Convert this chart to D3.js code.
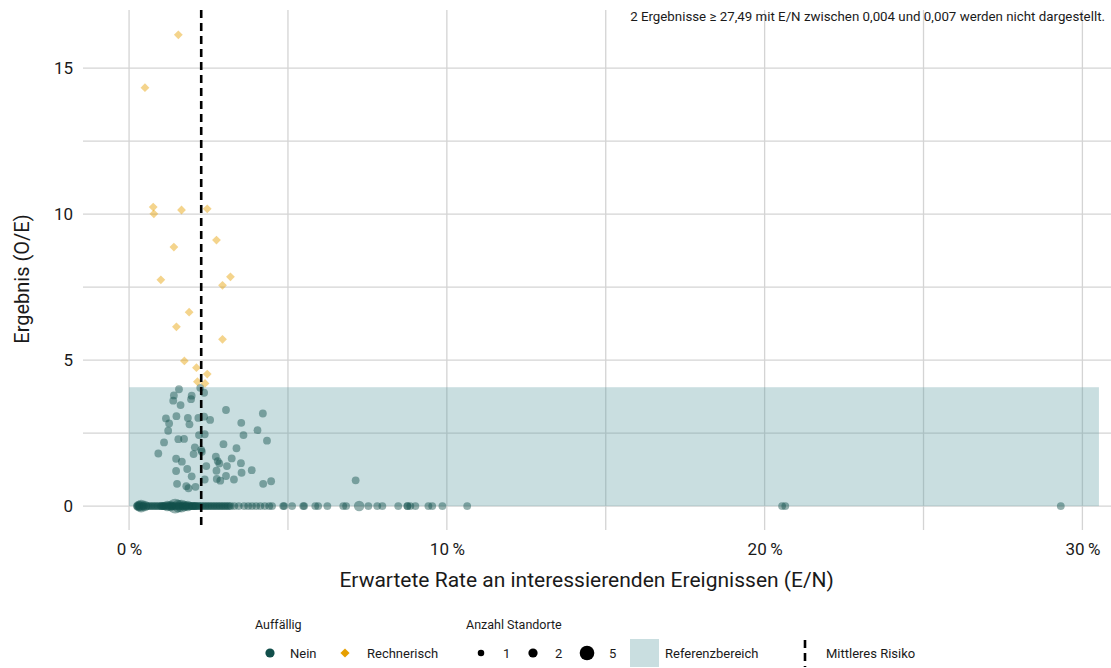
<!DOCTYPE html>
<html>
<head>
<meta charset="utf-8">
<script src="https://cdn.jsdelivr.net/npm/d3@7"></script>
<style>
  body { margin: 0; background: #fff; }
  text { font-family: Roboto, "Noto Sans", sans-serif; fill: #1a1a1a; }
</style>
</head>
<body>
<div id="chart"></div>
<script>
// E/N in percent, O/E
var xTicks = [0, 10, 20, 30];
var xGrid = [0, 5, 10, 15, 20, 25, 30];
var yTicks = [0, 5, 10, 15];
var yGrid = [0, 2.5, 5, 7.5, 10, 12.5, 15];
var meanRisk = 2.27;
var refX = [0, 30.52];
var refY = [0, 4.07];
var note = "2 Ergebnisse \u2265 27,49 mit E/N zwischen 0,004 und 0,007 werden nicht dargestellt.";

// Rechnerisch auffällig (x %, O/E)
var rechnerisch = [
  [1.55, 16.14], [0.50, 14.33], [0.76, 10.24], [0.78, 10.01], [1.65, 10.14],
  [2.46, 10.18], [2.75, 9.11], [1.41, 8.87], [1.00, 7.75], [3.19, 7.85],
  [2.94, 7.56], [1.89, 6.64], [1.49, 6.14], [2.94, 5.71], [1.74, 4.97],
  [2.12, 4.74], [2.46, 4.52], [2.15, 4.26], [2.39, 4.20]
];

// Nicht auffällig, O/E > 0 (x %, O/E, Standorte)
var neinPos = [
  [1.57, 4.00, 1], [1.97, 3.78, 1], [1.41, 3.79, 1], [1.39, 3.61, 1], [1.95, 3.66, 1],
  [1.62, 3.46, 1], [2.24, 4.05, 1], [2.36, 3.88, 1], [3.05, 3.29, 1], [4.21, 3.17, 1],
  [1.16, 3.00, 1], [1.49, 3.08, 1], [1.85, 3.02, 1], [2.18, 3.02, 1], [2.36, 3.06, 1],
  [2.55, 2.95, 1], [1.26, 2.83, 1], [1.90, 2.80, 1], [3.53, 2.85, 1], [1.23, 2.58, 1],
  [4.04, 2.60, 1], [2.38, 2.46, 1], [2.20, 2.43, 1], [3.60, 2.43, 1], [1.10, 2.18, 1],
  [1.55, 2.29, 1], [1.73, 2.30, 1], [4.34, 2.24, 1], [2.97, 2.12, 1], [2.07, 2.01, 1],
  [2.27, 1.92, 1], [3.38, 1.98, 1], [0.92, 1.80, 1], [2.03, 1.78, 1], [2.29, 1.86, 1],
  [1.48, 1.62, 1], [1.66, 1.52, 1], [2.73, 1.69, 1], [3.23, 1.63, 1], [2.79, 1.54, 1],
  [2.84, 1.46, 1], [3.52, 1.47, 1], [2.43, 1.37, 1], [1.83, 1.27, 1], [1.48, 1.20, 1],
  [2.75, 1.21, 1], [3.08, 1.37, 1], [3.86, 1.23, 1], [3.54, 1.14, 1], [1.97, 1.02, 1],
  [2.38, 0.91, 1], [2.76, 0.93, 1], [2.87, 0.87, 1], [3.05, 1.03, 1], [3.30, 0.91, 1],
  [1.51, 0.76, 1], [1.80, 0.68, 1], [1.87, 0.61, 1], [2.09, 0.66, 1], [4.22, 0.76, 1],
  [4.47, 0.85, 1], [7.13, 0.88, 1]
];

// Nicht auffällig, O/E = 0 (x %, Standorte)
var neinZero = [
  [0.38, 3], [0.36, 2], [0.30, 2], [0.50, 2], [0.25, 1], [0.28, 1], [0.33, 1],
  [0.42, 1], [0.47, 1], [0.55, 1], [0.60, 1], [0.65, 1], [0.70, 1], [0.75, 1],
  [0.80, 1], [0.85, 1], [0.90, 1], [0.95, 1], [1.00, 1], [1.02, 1], [1.05, 1],
  [1.08, 1], [1.10, 1], [1.12, 1], [1.18, 1], [1.20, 2], [1.22, 1], [1.28, 1],
  [1.30, 2], [1.33, 1], [1.35, 1], [1.38, 1], [1.42, 1], [1.45, 4], [1.48, 1],
  [1.52, 1], [1.55, 3], [1.58, 1], [1.62, 1], [1.65, 3], [1.68, 1], [1.72, 1],
  [1.75, 2], [1.78, 1], [1.82, 1], [1.85, 2], [1.88, 1], [1.92, 1], [1.95, 1],
  [1.98, 1], [2.00, 1], [2.02, 1], [2.05, 1], [2.08, 1], [2.10, 1], [2.12, 1],
  [2.18, 1], [2.20, 1], [2.25, 1], [2.30, 1], [2.35, 1], [2.40, 1], [2.45, 1],
  [2.50, 1], [2.55, 1], [2.60, 1], [2.65, 1], [2.70, 1], [2.75, 1], [2.80, 1],
  [2.85, 1], [2.90, 1], [2.95, 1], [3.00, 1], [3.05, 1], [3.10, 1], [3.15, 1],
  [3.20, 1], [3.31, 1], [3.45, 1], [3.62, 1], [3.75, 1], [3.87, 1], [4.00, 1],
  [4.13, 1], [4.27, 1], [4.41, 1], [4.50, 1], [4.85, 1], [4.88, 1], [5.13, 1],
  [5.48, 1], [5.51, 1], [5.86, 1], [5.95, 1], [6.24, 1], [6.74, 1], [6.83, 1],
  [7.24, 2], [7.53, 1], [7.81, 1], [7.97, 1], [8.47, 1], [8.76, 1], [8.76, 1],
  [8.85, 1], [9.01, 1], [9.42, 1], [9.54, 1], [9.86, 1], [10.64, 1], [20.55, 1],
  [20.65, 1], [29.32, 1]
];

var legendSizes = [1, 2, 5];

var width = 1111, height = 668;
var teal = "#124f4b", orange = "#e69f00", grid = "#d4d4d4";

var svg = d3.select("#chart").append("svg")
    .attr("width", width).attr("height", height);

var panel = {left: 83, right: 1111, top: 10, bottom: 530};

var x = d3.scaleLinear().domain([-1.45, 30.9]).range([panel.left, panel.right]);
var y = d3.scaleLinear().domain([-0.82, 16.99]).range([panel.bottom, panel.top]);
var r = d3.scaleSqrt().domain([0, 5]).range([0, 8.3]);

// grid
svg.append("g").selectAll("line").data(yGrid).enter().append("line")
    .attr("x1", panel.left).attr("x2", panel.right)
    .attr("y1", d => y(d)).attr("y2", d => y(d))
    .attr("stroke", grid).attr("stroke-width", 1.3);
svg.append("g").selectAll("line").data(xGrid).enter().append("line")
    .attr("x1", d => x(d)).attr("x2", d => x(d))
    .attr("y1", panel.top).attr("y2", panel.bottom)
    .attr("stroke", grid).attr("stroke-width", 1.3);

// Referenzbereich
svg.append("rect")
    .attr("x", x(refX[0])).attr("width", x(refX[1]) - x(refX[0]))
    .attr("y", y(refY[1])).attr("height", y(refY[0]) - y(refY[1]))
    .attr("fill", "#5b9ba1").attr("fill-opacity", 0.33);

// points
var zeroPts = neinZero.map(d => [d[0], 0, d[1]]);
svg.append("g").selectAll("circle").data(zeroPts.concat(neinPos)).enter().append("circle")
    .attr("cx", d => x(d[0])).attr("cy", d => y(d[1]))
    .attr("r", d => Math.max(r(d[2]), 3.9))
    .attr("fill", teal).attr("fill-opacity", 0.45);

function diamond(s) {
    return "M0," + (-s) + "L" + s + ",0L0," + s + "L" + (-s) + ",0Z";
}
svg.append("g").selectAll("path").data(rechnerisch).enter().append("path")
    .attr("transform", d => "translate(" + x(d[0]) + "," + y(d[1]) + ")")
    .attr("d", diamond(4.4))
    .attr("fill", orange).attr("fill-opacity", 0.45);

// mittleres Risiko
svg.append("line")
    .attr("x1", x(meanRisk)).attr("x2", x(meanRisk))
    .attr("y1", panel.top).attr("y2", panel.bottom)
    .attr("stroke", "#000").attr("stroke-width", 2.6)
    .attr("stroke-dasharray", "8,5");

// axes
var xAxis = svg.append("g")
    .attr("transform", "translate(0," + 540 + ")")
    .call(d3.axisBottom(x).tickValues(xTicks).tickSize(0)
        .tickFormat(d => d + "\u2009%"));
xAxis.select(".domain").remove();
xAxis.selectAll("text").attr("font-size", 17).attr("fill", "#1a1a1a")
    .attr("font-family", "Roboto").attr("dy", "0.71em");

var yAxis = svg.append("g")
    .attr("transform", "translate(" + 73 + ",0)")
    .call(d3.axisLeft(y).tickValues(yTicks).tickSize(0));
yAxis.select(".domain").remove();
yAxis.selectAll("text").attr("font-size", 17).attr("fill", "#1a1a1a")
    .attr("font-family", "Roboto").attr("x", 0);

svg.append("text")
    .attr("x", x(14.4)).attr("y", 587)
    .attr("text-anchor", "middle").attr("font-size", 21)
    .text("Erwartete Rate an interessierenden Ereignissen (E/N)");

svg.append("text")
    .attr("transform", "translate(29,279) rotate(-90)")
    .attr("text-anchor", "middle").attr("font-size", 20)
    .text("Ergebnis (O/E)");

svg.append("text")
    .attr("x", 1105).attr("y", 21)
    .attr("text-anchor", "end").attr("font-size", 13.3)
    .text(note);

// legend
var leg = svg.append("g");
leg.append("text").attr("x", 255).attr("y", 629).attr("font-size", 12.5).text("Auffällig");
leg.append("circle").attr("cx", 270).attr("cy", 653).attr("r", 4.6).attr("fill", teal);
leg.append("text").attr("x", 290).attr("y", 657.5).attr("font-size", 13).text("Nein");
leg.append("path").attr("transform", "translate(345,653)").attr("d", diamond(4.6)).attr("fill", orange);
leg.append("text").attr("x", 367).attr("y", 657.5).attr("font-size", 13).text("Rechnerisch");

leg.append("text").attr("x", 466).attr("y", 629).attr("font-size", 12.5).text("Anzahl Standorte");
var sizeX = [481, 533, 587];
legendSizes.forEach(function(s, i) {
    leg.append("circle").attr("cx", sizeX[i]).attr("cy", 653).attr("r", r(s) * 0.88).attr("fill", "#000");
    leg.append("text").attr("x", sizeX[i] + 22).attr("y", 657.5).attr("font-size", 13).text(s);
});

leg.append("rect").attr("x", 630).attr("y", 639).attr("width", 29).attr("height", 28)
    .attr("fill", "#5b9ba1").attr("fill-opacity", 0.33);
leg.append("text").attr("x", 665).attr("y", 657.5).attr("font-size", 13).text("Referenzbereich");

leg.append("line").attr("x1", 805).attr("x2", 805).attr("y1", 640).attr("y2", 667)
    .attr("stroke", "#000").attr("stroke-width", 2.6).attr("stroke-dasharray", "8,5");
leg.append("text").attr("x", 826).attr("y", 657.5).attr("font-size", 13).text("Mittleres Risiko");
</script>
</body>
</html>
